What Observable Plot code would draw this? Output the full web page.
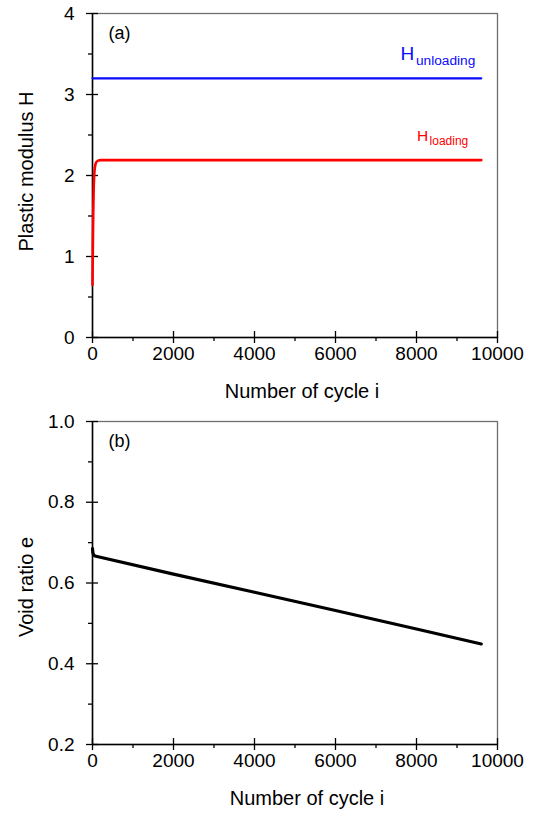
<!DOCTYPE html>
<html>
<head>
<meta charset="utf-8">
<script src="https://cdn.jsdelivr.net/npm/d3@7"></script>
<script src="https://cdn.jsdelivr.net/npm/@observablehq/plot@0.6"></script>
<style>
  html, body { margin: 0; padding: 0; background: #fff; }
  #chart svg { display: block; }
</style>
</head>
<body>
<div id="chart"></div>
<script>
// ---- data ----
const xMajorTicks = [0, 2000, 4000, 6000, 8000, 10000];
const xMinorTicks = [1000, 3000, 5000, 7000, 9000];
const yMajorTicksA = [0, 1, 2, 3, 4];
const yMinorTicksA = [0.5, 1.5, 2.5, 3.5];
const yMajorTicksB = [0.2, 0.4, 0.6, 0.8, 1.0];
const yMinorTicksB = [0.3, 0.5, 0.7, 0.9];

const unloadCycles = [0, 9600];
const unloadH = [3.2, 3.2];
const loadCycles = [0, 5, 10, 20, 30, 40, 50, 75, 100, 150, 200, 400, 9600];
const loadH = [0.65, 0.95, 1.2, 1.6, 1.85, 1.98, 2.06, 2.14, 2.17, 2.185, 2.19, 2.19, 2.19];
const voidCycles = [0, 10, 30, 60, 2000, 4000, 6000, 8000, 9600];
const voidE = [0.685, 0.675, 0.669, 0.667, 0.622, 0.577, 0.532, 0.486, 0.449];

const xLabel = "Number of cycle i";
const yLabelA = "Plastic modulus H";
const yLabelB = "Void ratio e";

// ---- layout ----
const W = 535, H = 408;
const mL = 92, mR = 38;
const innerW = W - mL - mR;
const font = "'Liberation Sans', Arial, Helvetica, sans-serif";

function panel({yDomain, yMajor, yMinor, yFmt, yLabel, tag, marks, mTop, mBottom, xlDx, ylDy}) {
  const innerH = H - mTop - mBottom;
  return Plot.plot({
    width: W, height: H,
    marginLeft: mL, marginRight: mR, marginTop: mTop, marginBottom: mBottom,
    style: {fontFamily: font, background: "#fff", color: "#000"},
    x: {domain: [0, 10000]},
    y: {domain: yDomain},
    marks: [
      Plot.frame({stroke: "#6e6e6e", strokeWidth: 1.3}),
      Plot.ruleX([0], {stroke: "#000", strokeWidth: 1.5}),
      Plot.ruleY([yDomain[0]], {stroke: "#000", strokeWidth: 1.5}),
      // x axis
      Plot.axisX(xMajorTicks, {tickSize: 6, tickPadding: 3, fontSize: 19, label: null, strokeWidth: 1.3, tickFormat: d3.format("d")}),
      Plot.axisX(xMinorTicks, {tickSize: 4, text: null, label: null, strokeWidth: 1.3}),
      Plot.tickX(xMajorTicks, {x: d => d, insetTop: innerH - 6, stroke: "#000", strokeWidth: 1.3}),
      // y axis
      Plot.axisY(yMajor, {tickSize: 6, tickPadding: 12, fontSize: 19, label: null, strokeWidth: 1.3, tickFormat: yFmt}),
      Plot.axisY(yMinor, {tickSize: 4, text: null, label: null, strokeWidth: 1.3}),
      Plot.tickY(yMajor, {y: d => d, insetRight: innerW - 6, stroke: "#000", strokeWidth: 1.3}),
      // titles
      Plot.text([xLabel], {text: d => d, frameAnchor: "bottom", textAnchor: "middle", dx: xlDx, dy: 60, fontSize: 20, fill: "#000"}),
      Plot.text([yLabel], {text: d => d, frameAnchor: "left", textAnchor: "middle", rotate: -90, dx: -66, dy: ylDy, fontSize: 20, fill: "#000"}),
      Plot.text([tag], {text: d => d, frameAnchor: "top-left", dx: 16, dy: 13, fontSize: 18, fill: "#000", textAnchor: "start", lineAnchor: "top"}),
      ...marks
    ]
  });
}

const lineUnload = unloadCycles.map((c, i) => ({c, h: unloadH[i]}));
const lineLoad = loadCycles.map((c, i) => ({c, h: loadH[i]}));
const lineVoid = voidCycles.map((c, i) => ({c, e: voidE[i]}));
const lastU = [lineUnload[lineUnload.length - 1]];
const lastL = [lineLoad[lineLoad.length - 1]];

const a = panel({
  yDomain: [0, 4], yMajor: yMajorTicksA, yMinor: yMinorTicksA, yFmt: d3.format("d"),
  yLabel: yLabelA, tag: "(a)", mTop: 13, mBottom: 71, xlDx: 7, ylDy: -4,
  marks: [
    Plot.line(lineUnload, {x: "c", y: "h", stroke: "#0a0aff", strokeWidth: 2.2}),
    Plot.line(lineLoad, {x: "c", y: "h", stroke: "#ff0000", strokeWidth: 2.6, curve: "monotone-x"}),
    Plot.text(lastU, {x: "c", y: "h", text: () => "unloading", textAnchor: "end", dx: -6, dy: -18, fontSize: 13.7, fill: "#0a0aff"}),
    Plot.text(lastU, {x: "c", y: "h", text: () => "H", textAnchor: "end", dx: -67, dy: -24, fontSize: 19, fill: "#0a0aff"}),
    Plot.text(lastL, {x: "c", y: "h", text: () => "loading", textAnchor: "end", dx: -13, dy: -19, fontSize: 12, fill: "#ff0000"}),
    Plot.text(lastL, {x: "c", y: "h", text: () => "H", textAnchor: "end", dx: -53, dy: -24, fontSize: 15.5, fill: "#ff0000"})
  ]
});

const b = panel({
  yDomain: [0.2, 1.0], yMajor: yMajorTicksB, yMinor: yMinorTicksB, yFmt: d3.format(".1f"),
  yLabel: yLabelB, tag: "(b)", mTop: 13, mBottom: 72, xlDx: 12, ylDy: 4,
  marks: [
    Plot.line(lineVoid, {x: "c", y: "e", stroke: "#000", strokeWidth: 3.2})
  ]
});

document.getElementById("chart").append(a, b);
</script>
</body>
</html>
